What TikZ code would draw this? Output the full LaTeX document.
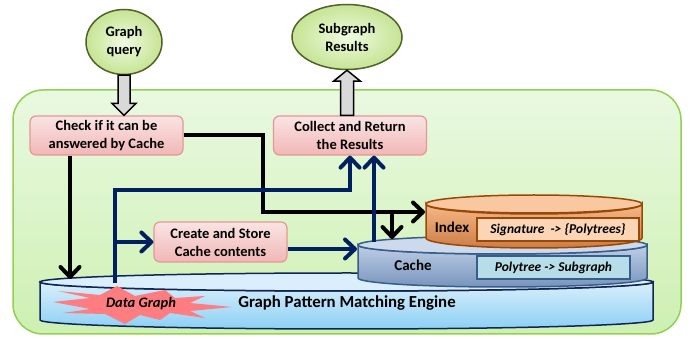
\documentclass[tikz,border=0pt]{standalone}
\usepackage{fontspec}
\setmainfont{Carlito}
\usetikzlibrary{arrows.meta,shapes.geometric}

\definecolor{framegreen}{RGB}{146,208,80}
\definecolor{frametop}{RGB}{233,249,225}
\definecolor{framebot}{RGB}{206,240,178}
\definecolor{bubbleline}{RGB}{79,98,40}
\definecolor{bubbleinner}{RGB}{240,250,225}
\definecolor{bubbleouter}{RGB}{198,228,148}
\definecolor{stepline}{RGB}{230,150,150}
\definecolor{steptop}{RGB}{250,228,228}
\definecolor{stepbot}{RGB}{242,182,182}
\definecolor{flownavy}{RGB}{0,32,96}
\definecolor{hollowgray}{RGB}{217,217,217}
\definecolor{indexline}{RGB}{152,72,7}
\definecolor{indextop}{RGB}{250,200,160}
\definecolor{indexbody}{RGB}{246,184,136}
\definecolor{indexbot}{RGB}{205,125,70}
\definecolor{signfill}{RGB}{251,213,181}
\definecolor{cacheline}{RGB}{56,93,138}
\definecolor{cachetop}{RGB}{205,218,236}
\definecolor{cachebody}{RGB}{190,206,230}
\definecolor{cachebot}{RGB}{120,148,188}
\definecolor{polyfill}{RGB}{183,222,232}
\definecolor{engineline}{RGB}{16,37,84}
\definecolor{enginetop}{RGB}{218,239,251}
\definecolor{enginebot}{RGB}{140,208,245}
\definecolor{burstred}{RGB}{255,124,128}

\newcommand\boxfont{\bfseries\fontsize{14.5}{18}\selectfont}

\begin{document}
\begin{tikzpicture}[x=1pt,y=-1pt,
	stepbox/.style={draw=stepline, line width=1.2pt, rounded corners=6pt,
		top color=steptop, bottom color=stepbot, align=center, font=\boxfont,
		minimum width=153pt, minimum height=39pt, inner sep=1pt},
	bubble/.style={ellipse, draw=bubbleline, line width=1.5pt, inner sep=0pt,
		inner color=bubbleinner, outer color=bubbleouter, align=center, font=\boxfont},
	hollowarrow/.style={draw=black, line width=1.5pt, fill=hollowgray},
	blackflow/.style={line width=4pt, -{Straight Barb[length=10pt,width=19pt,round]}},
	navyflow/.style={blackflow, draw=flownavy},
	mapbox/.style={line width=1.5pt, inner sep=0pt,
		font=\bfseries\itshape\fontsize{13.5}{16}\selectfont},
	cyllabel/.style={font=\bfseries\fontsize{15}{18}\selectfont}
	]
	\useasboundingbox (0,0) rectangle (697,339);

	% the green frame round the system
	\draw[draw=framegreen, line width=1.5pt, rounded corners=30pt,
		top color=frametop, bottom color=framebot] (13,90) rectangle (681,334);

	% Graph Pattern Matching Engine
	\draw[draw=engineline, line width=1.5pt, top color=enginetop, bottom color=enginebot]
		(40,282) -- (40,320) arc[start angle=180, end angle=0, x radius=306.5, y radius=9]
		-- (653,282) arc[start angle=0, end angle=180, x radius=306.5, y radius=9] -- cycle;
	\draw[draw=engineline, line width=1.5pt, fill=enginetop] (346.5,282) ellipse[x radius=306.5, y radius=9];
	\fill[burstred] (53,302) -- (90,298) -- (58,291) -- (100,295) -- (117,286) -- (135,296)
		-- (165,290) -- (175,298) -- (205,296) -- (190,303) -- (232,307) -- (190,311)
		-- (205,318) -- (170,313) -- (160,320) -- (140,315) -- (125,324) -- (105,314)
		-- (63,313) -- (90,309) -- cycle;
	\node (datalabel) [font=\bfseries\itshape\fontsize{14.5}{18}\selectfont] at (141,304) {Data Graph};
	\node (enginelabel) [font=\bfseries\fontsize{16.8}{18}\selectfont] at (347,303) {Graph Pattern Matching Engine};

	% Cache
	\draw[draw=cacheline, line width=1.5pt, top color=cachebody, bottom color=cachebot]
		(358,245) -- (358,278) arc[start angle=180, end angle=0, x radius=144.5, y radius=9]
		-- (647,245) arc[start angle=0, end angle=180, x radius=144.5, y radius=9] -- cycle;
	\draw[draw=cacheline, line width=1.5pt, fill=cachetop] (502.5,245) ellipse[x radius=144.5, y radius=9];
	\node (cachelabel) [cyllabel] at (413,265) {Cache};
	\node (polybox) [mapbox, draw=cacheline, fill=polyfill, minimum width=153pt, minimum height=23pt]
		at (553.5,267.5) {Polytree -> Subgraph};

	% Index
	\draw[draw=indexline, line width=1.5pt, top color=indexbody, bottom color=indexbot]
		(426,204) -- (426,238) arc[start angle=180, end angle=0, x radius=108, y radius=10]
		-- (642,204) arc[start angle=0, end angle=180, x radius=108, y radius=10] -- cycle;
	\draw[draw=indexline, line width=1.5pt, fill=indextop] (534,204) ellipse[x radius=108, y radius=9];
	\node (indexlabel) [cyllabel] at (452,227) {Index};
	\node (signbox) [mapbox, draw=indexline, fill=signfill, minimum width=162pt, minimum height=23pt]
		at (558,229.5) {Signature\ \ -> \{Polytrees\}};

	% steps and end points
	\node (query) [bubble, minimum width=76pt, minimum height=65pt] at (124,42) {Graph\\query};
	\node (results) [bubble, minimum width=110pt, minimum height=65pt] at (347,37) {Subgraph\\Results};
	\node (check) [stepbox] at (106.5,135.5) {Check if it can be\\answered by Cache};
	\node (collect) [stepbox] at (350,135.5) {Collect and Return\\the Results};
	\node (create) [stepbox, minimum width=133pt, minimum height=40pt] at (220.5,242) {Create and Store\\Cache contents};

	% free ends on the cylinders
	\coordinate (enginein) at (70,279);
	\coordinate (engineout) at (115,283);
	\coordinate (navybend) at (115,190);
	\coordinate (blackbend) at (263,212);
	\coordinate (indexin) at (425,212);
	\coordinate (cachein) at (392,239);
	\coordinate (cachewest) at (357,249);
	\coordinate (cacheout) at (374,242);
	\coordinate (querytip) at (query.south |- check.north);
	\coordinate (resultsbase) at (results.south |- collect.north);

	% query in, results out
	\draw[hollowarrow] ([xshift=-6pt]query.south) -- ([xshift=-6pt,yshift=12pt]querytip)
		-- ([xshift=-12pt,yshift=12pt]querytip) -- (querytip) -- ([xshift=12pt,yshift=12pt]querytip)
		-- ([xshift=6pt,yshift=12pt]querytip) -- ([xshift=6pt]query.south) -- cycle;
	\draw[hollowarrow] ([xshift=-6.5pt]resultsbase) -- ([xshift=-6.5pt,yshift=-11pt]results.south)
		-- ([xshift=-13.5pt,yshift=-11pt]results.south) -- (results.south)
		-- ([xshift=13.5pt,yshift=-11pt]results.south) -- ([xshift=6.5pt,yshift=-11pt]results.south)
		-- ([xshift=6.5pt]resultsbase) -- cycle;

	% flows
	\draw[blackflow] (check.south -| enginein) -- (enginein);
	\draw[blackflow] (check.east) -| (blackbend) -- (indexin);
	\draw[blackflow] (cachein |- indexin) -- (cachein);
	\draw[navyflow] (engineout) -- (navybend) -| (collect.south);
	\draw[navyflow] (engineout |- create.west) -- (create.west);
	\draw[navyflow] (create.east |- cachewest) -- (cachewest);
	\draw[navyflow] (cacheout) -- (cacheout |- collect.south);
\end{tikzpicture}
\end{document}
